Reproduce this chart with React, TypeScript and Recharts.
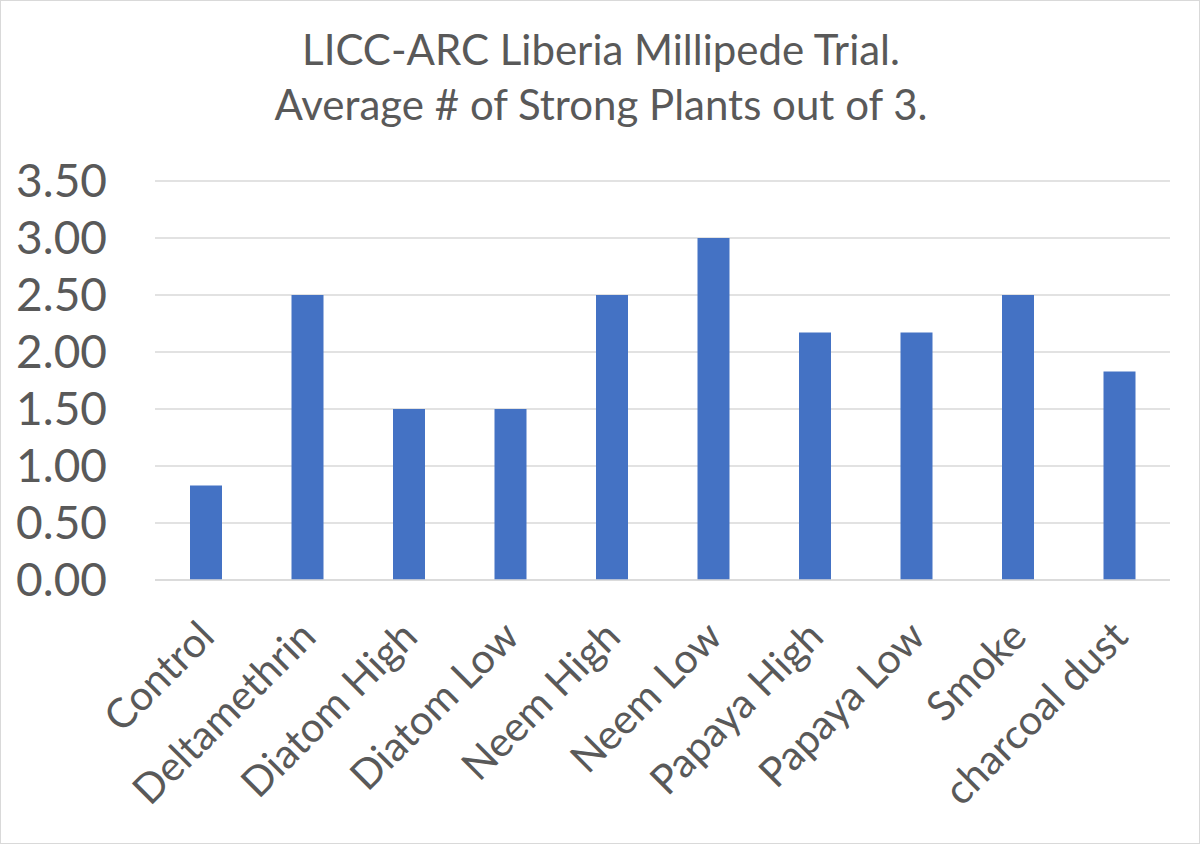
import React from 'react';
import { BarChart, Bar, XAxis, YAxis, CartesianGrid } from 'recharts';

const categories = ['Control', 'Deltamethrin', 'Diatom High', 'Diatom Low', 'Neem High', 'Neem Low', 'Papaya High', 'Papaya Low', 'Smoke', 'charcoal dust'];
const values = [0.83, 2.5, 1.5, 1.5, 2.5, 3.0, 2.17, 2.17, 2.5, 1.83];
const yTicks = [0, 0.5, 1.0, 1.5, 2.0, 2.5, 3.0, 3.5];
const titleLines = ['LICC-ARC Liberia Millipede Trial.', 'Average # of Strong Plants out of 3.'];

const data = categories.map((c, i) => ({ name: c, value: values[i] }));

const FONT = 'Lato, "Open Sans", sans-serif';
const GRAY = '#595959';

const XTick = (props: any) => {
  const { x, y, payload } = props;
  const ax = x;
  const ay = y + 40;
  return (
    <text
      x={ax}
      y={ay}
      transform={`rotate(-45, ${ax}, ${ay})`}
      textAnchor="end"
      dominantBaseline="central"
      fill={GRAY}
      fontSize={41}
      fontFamily={FONT}
    >
      {payload.value}
    </text>
  );
};

export default function App() {
  return (
    <div style={{ position: 'absolute', left: 0, top: 0, width: 1200, height: 844, background: '#fff', boxSizing: 'border-box', border: '1px solid #d9d9d9' }}>
      <svg width={1198} height={140} style={{ position: 'absolute', left: 0, top: 0 }}>
        {titleLines.map((t, i) => (
          <text key={i} x={600} y={64 + i * 55} textAnchor="middle" fill={GRAY} fontSize={42} fontFamily={FONT}>
            {t}
          </text>
        ))}
      </svg>
      <div style={{ position: 'absolute', left: -1, top: -1 }}>
        <BarChart width={1200} height={844} data={data} margin={{ top: 181, right: 30, left: 0, bottom: 0 }}>
          <CartesianGrid vertical={false} stroke="#d9d9d9" strokeWidth={1.5} />
          <XAxis
            dataKey="name"
            height={264}
            interval={0}
            tickLine={false}
            axisLine={{ stroke: '#d9d9d9', strokeWidth: 1.5 }}
            tick={<XTick />}
          />
          <YAxis
            width={155}
            domain={[0, 3.5]}
            ticks={yTicks}
            interval={0}
            axisLine={false}
            tickLine={false}
            tickMargin={42}
            tickFormatter={(v: number) => v.toFixed(2)}
            tick={{ fill: GRAY, fontSize: 46, fontFamily: FONT }}
          />
          <Bar dataKey="value" fill="#4472c4" barSize={32} isAnimationActive={false} />
        </BarChart>
      </div>
    </div>
  );
}
